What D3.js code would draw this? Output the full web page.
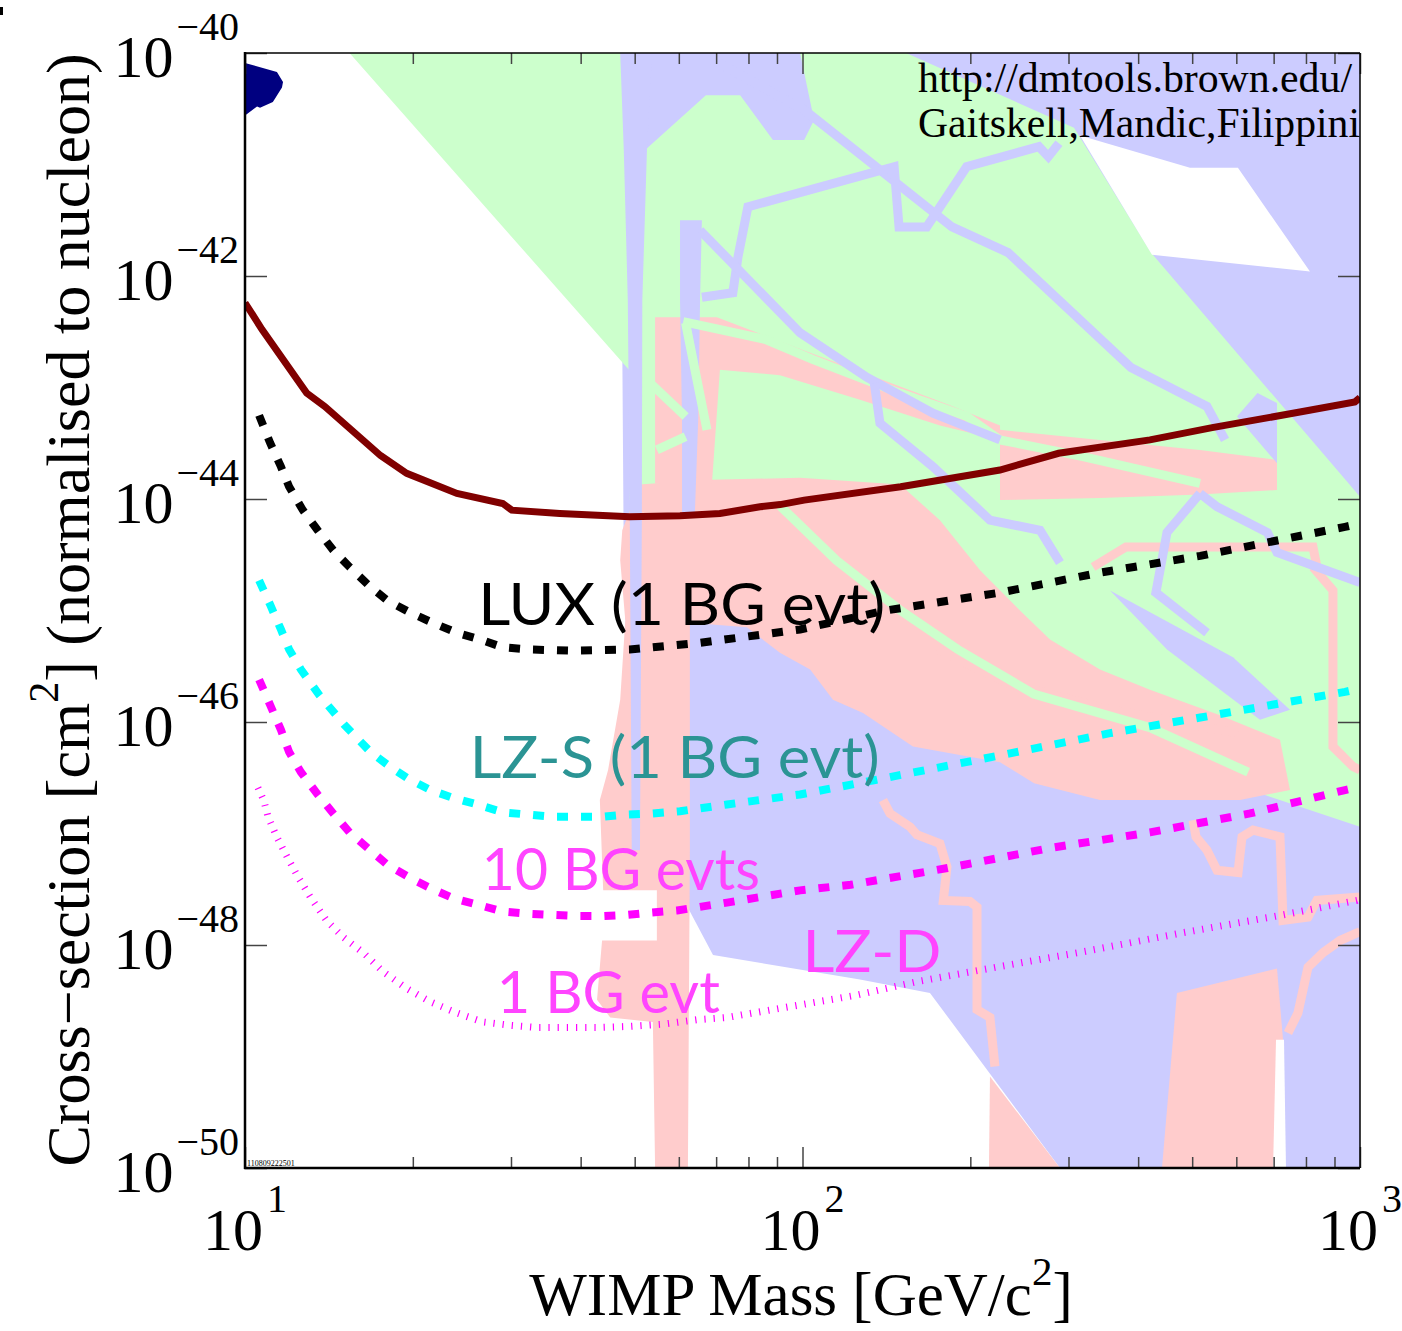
<!DOCTYPE html>
<html>
<head>
<meta charset="utf-8">
<script src="https://cdn.jsdelivr.net/npm/d3@7"></script>
<style>
  body { margin: 0; background: #fff; }
  svg { display: block; }
</style>
</head>
<body>
<div id="chart"></div>
<script>
/* CONSTANTS AND GLOBALS */
const width = 1402;
const height = 1331;
const margin = { top: 53, right: 42, bottom: 163, left: 245 };

// all points are [WIMP mass in GeV, log10 of cross-section in cm^2]
const currentLimit = [[10, -42.24], [10.73, -42.48], [12.9, -43.05], [13.9, -43.17], [17.5, -43.61], [19.5, -43.77],
  [24.0, -43.95], [29.0, -44.04], [30.1, -44.10], [36.7, -44.13], [49.0, -44.16], [60.3, -44.15], [71.1, -44.13],
  [83.9, -44.07], [91.2, -44.05], [100.7, -44.01], [150, -43.89], [226, -43.74], [288, -43.59], [420, -43.47],
  [543, -43.36], [780, -43.22], [979, -43.13], [1000, -43.09]];

const luxProjection = [[10.6, -43.25], [11.1, -43.50], [11.6, -43.71], [12.0, -43.89], [12.7, -44.10], [13.5, -44.28],
  [14.4, -44.46], [15.4, -44.61], [16.8, -44.79], [18.0, -44.91], [19.8, -45.02], [21.7, -45.11], [24.0, -45.20],
  [26.4, -45.26], [29.0, -45.33], [32.4, -45.35], [38.7, -45.36], [49, -45.35], [65.5, -45.29], [99, -45.17],
  [141, -45.00], [226, -44.84], [342, -44.66], [517, -44.51], [940, -44.25], [1000, -44.22]];

const lzsProjection = [[10.6, -44.73], [11.1, -44.95], [11.6, -45.17], [12.0, -45.35], [12.6, -45.53], [13.6, -45.76],
  [15.1, -46.03], [16.8, -46.27], [18.2, -46.40], [19.5, -46.50], [21.5, -46.61], [23.6, -46.68], [26.1, -46.74],
  [29.0, -46.81], [32.1, -46.83], [35.7, -46.85], [39.4, -46.85], [43.9, -46.85], [48.4, -46.83], [53.9, -46.82],
  [60.3, -46.80], [73.2, -46.74], [99, -46.65], [135, -46.52], [226, -46.30], [356, -46.10], [517, -45.96],
  [940, -45.73], [1000, -45.70]];

const lzd10Projection = [[10.6, -45.62], [11.1, -45.85], [11.6, -46.07], [12.0, -46.27], [12.6, -46.45], [13.5, -46.65],
  [14.4, -46.82], [15.4, -46.99], [16.6, -47.13], [18.0, -47.28], [19.8, -47.40], [21.5, -47.49], [23.6, -47.58],
  [26.2, -47.64], [29.0, -47.70], [32.4, -47.72], [35.7, -47.73], [39.6, -47.74], [43.9, -47.74], [48.4, -47.73],
  [53.2, -47.71], [59.6, -47.69], [73.2, -47.62], [99, -47.51], [122, -47.46], [182, -47.31], [278, -47.13],
  [420, -46.99], [635, -46.82], [940, -46.61], [1000, -46.58]];

const lzd1Projection = [[10.55, -46.59], [10.8, -46.70], [11.0, -46.85], [11.4, -47.03], [11.9, -47.21], [12.45, -47.39],
  [13.1, -47.57], [14.0, -47.78], [15.0, -47.93], [16.3, -48.07], [17.7, -48.24], [19.5, -48.39], [21.5, -48.51],
  [24.0, -48.61], [26.7, -48.69], [29.9, -48.72], [33.4, -48.74], [37.2, -48.74], [42.8, -48.74], [49, -48.73],
  [56.2, -48.71], [64.7, -48.67], [73.2, -48.65], [125, -48.45], [160, -48.33], [211, -48.22], [319, -48.06],
  [481, -47.89], [728, -47.73], [988, -47.60], [1000, -47.59]];

// theory / excluded regions
const blueMain = [[47.1, -40], [1000, -40], [1000, -50], [289.6, -50], [169.3, -48.43], [126.8, -48.31], [69.1, -48.09],
  [49.2, -46.70], [47.8, -44.55]];
const greenMain = [[15.4, -40], [153.4, -40], [306.9, -40.67], [421.8, -41.79], [1000, -43.98], [1000, -46.94],
  [661.6, -46.64], [341.6, -46.07], [226.1, -45.71], [149.6, -45.26], [99.0, -44.73], [65.5, -44.28], [49.0, -44.01],
  [49.4, -42.87]];
const whitePatch = [[314.6, -40.74], [495.5, -41.03], [604, -41.03], [813.3, -41.96], [423.5, -41.81]];
const blueTop = [[52.2, -40], [99.0, -40], [104.9, -40.60], [100.7, -40.78], [88.5, -40.78], [77.3, -40.38],
  [67.1, -40.38], [52.2, -40.87]];
const blueStripA = [[47.1, -40], [53.7, -40], [52.6, -40.87], [51.6, -42.22], [51.5, -44.19], [51.1, -47.15],
  [49.4, -47.15], [49.0, -44.19], [48.6, -42.22], [47.8, -40.87]];
const blueStripB = [[60.3, -41.50], [66.0, -41.50], [65.5, -42.22], [65.0, -43.29], [64.1, -44.14], [60.8, -44.14],
  [60.8, -43.29], [60.3, -42.22]];
const blueWedge = [[356.1, -44.82], [591.8, -45.42], [748.8, -45.89], [661.6, -45.98], [450.6, -45.35]];
const blueNotch = [[601.7, -43.26], [654.8, -43.05], [709.8, -43.14], [709.8, -43.68]];
const pinkBig = [[47.5, -44.28], [51.1, -43.87], [65.5, -43.83], [99.0, -43.81], [149.6, -43.87], [176.4, -44.19],
  [208.2, -44.64], [245.5, -45.00], [277.9, -45.26], [341.6, -45.53], [420.0, -45.71], [560.9, -45.94], [718.6, -46.16],
  [748.8, -46.61], [609.2, -46.70], [420.0, -46.70], [341.6, -46.70], [260.2, -46.55], [226.1, -46.36], [157.8, -46.22],
  [128.4, -45.92], [113.4, -45.80], [103.2, -45.53], [91.1, -45.38], [79.5, -45.15], [62.8, -45.11], [62.8, -47.15],
  [62.3, -50], [54.4, -50], [53.9, -48.69], [45.2, -48.65], [42.8, -48.49], [43.7, -47.96], [54.8, -47.96],
  [54.8, -47.51], [43.9, -47.51], [43.3, -46.70], [44.8, -46.43], [47.1, -45.80], [48.1, -45.09], [47.1, -44.55]];
const pinkUpper = [[54.4, -42.37], [70.2, -42.37], [95.0, -42.62], [132.2, -42.89], [183.9, -43.16], [226.1, -43.34],
  [226.1, -43.47], [176.4, -43.34], [126.8, -43.11], [91.1, -42.89], [71.1, -42.84], [68.8, -43.86], [54.4, -43.86]];
const pinkBand = [[226.1, -43.38], [341.6, -43.47], [516.4, -43.56], [709.8, -43.65], [709.8, -43.92], [516.4, -43.96],
  [341.6, -43.99], [226.1, -44.01]];
const pinkWedge = [[216.9, -49.18], [289.6, -50], [216.0, -50]];
const pinkLowRight = [[469.5, -48.43], [709.8, -48.21], [727.6, -48.85], [698.3, -50], [441.4, -50]];
const whiteSliver = [[706.9, -48.85], [730.6, -48.85], [736.6, -50], [698.3, -50]];
const navyBlob = [[10, -40.09], [11.41, -40.17], [11.70, -40.26], [11.65, -40.31], [11.22, -40.44], [10.64, -40.49],
  [10.51, -40.48], [10, -40.56]];

// region outlines
const pinkOutlines = [
  [[501.7, -46.88], [507.9, -47.03], [531.5, -47.15], [554, -47.33], [604.2, -47.35], [614.3, -47.03], [642.8, -46.97],
   [718.6, -47.03], [727.6, -47.78], [806.7, -47.75], [837, -47.60], [1000, -47.57]],
  [[742.7, -48.79], [773.9, -48.61], [806.7, -48.20], [858, -48.07], [920.6, -47.96], [1000, -47.88]],
  [[139.4, -46.70], [143.5, -46.82], [155.9, -46.94], [160.4, -47.01], [176.4, -47.09], [181.6, -47.30], [178.9, -47.60],
   [199.7, -47.61], [205.6, -47.66], [205.6, -48.58], [216.9, -48.65], [221.4, -49.09]],
  [[823.5, -44.61], [894.3, -44.82], [894.3, -46.22], [971.5, -46.40], [1000, -46.43]],
  [[332, -44.61], [380.4, -44.43], [823.5, -44.43], [837.3, -44.61]],
  [[174.2, -45.35], [233.7, -45.65], [356.1, -45.89], [604.2, -46.10]]
];
const greenOutlines = [
  [[91.1, -44.06], [115, -44.55], [150, -45.00], [190, -45.35], [260, -45.75], [420, -46.05], [630, -46.45]],
  [[61.1, -42.41], [85.9, -42.57], [104.5, -42.75], [149.6, -43.05], [197.2, -43.26], [226.1, -43.47], [318.5, -43.62],
   [516.4, -43.86]],
  [[61.7, -42.42], [67.4, -43.38]],
  [[53.3, -42.96], [61.7, -43.26]],
  [[54.8, -43.56], [61.7, -43.44]]
];
const blueOutlines = [
  [[65.5, -40], [100.7, -40.51], [185.4, -41.56], [233.7, -41.79], [388.3, -42.82], [531.5, -43.17], [572.7, -43.47]],
  [[66.0, -42.19], [75.0, -42.15], [76.6, -41.83], [79.8, -41.38], [146, -41.02], [149, -41.56], [167, -41.56],
   [197, -41.02], [265.6, -40.84], [276, -40.93], [288.4, -40.81]],
  [[65.5, -41.59], [99, -42.51], [130.6, -42.91], [171.4, -43.23], [226.1, -43.47]],
  [[134.5, -42.96], [137.7, -43.32], [171.4, -43.71], [216.9, -44.19], [266.7, -44.28], [289.6, -44.57]],
  [[516.4, -43.95], [450.6, -44.30], [430.4, -44.84], [531.5, -45.20]],
  [[516.4, -43.95], [554.1, -44.07], [682.2, -44.30], [709.8, -44.48], [1000, -44.75]]
];

// annotation text anchored in data coordinates
const curveLabels = [
  { text: "LUX (1 BG evt)", at: [26.2, -45.13], len: 407, color: "#000000" },
  { text: "LZ-S (1 BG evt)", at: [25.3, -46.50], len: 410, color: "#2b9494" },
  { text: "10 BG evts", at: [26.6, -47.51], len: 278, color: "#ff44ff" },
  { text: "1 BG evt", at: [28.3, -48.61], len: 223, color: "#ff44ff" },
  { text: "LZ-D", at: [100, -48.24], len: 139, color: "#ff44ff" }
];

const xMajor = [10, 100, 1000];
const xMinor = [20, 30, 40, 50, 60, 70, 80, 90, 200, 300, 400, 500, 600, 700, 800, 900];
const xExponents = [1, 2, 3];
const yExponents = [-40, -42, -44, -46, -48, -50];

/* SVG */
const svg = d3.select("#chart")
  .append("svg")
  .attr("width", width)
  .attr("height", height);

/* SCALES */
const xScale = d3.scaleLog()
  .domain([10, 1000])
  .range([margin.left, width - margin.right]);

const yScale = d3.scaleLog()
  .domain([1e-50, 1e-40])
  .range([height - margin.bottom, margin.top]);

const line = d3.line()
  .x(d => xScale(d[0]))
  .y(d => yScale(Math.pow(10, d[1])));

const polygon = pts => line(pts) + "Z";

svg.append("clipPath")
  .attr("id", "plot-clip")
  .append("rect")
  .attr("x", margin.left)
  .attr("y", margin.top)
  .attr("width", width - margin.left - margin.right)
  .attr("height", height - margin.top - margin.bottom);

const plot = svg.append("g").attr("clip-path", "url(#plot-clip)");

/* REGIONS */
const blue = "#ccccff", green = "#ccffcc", pink = "#ffcccc";

const fills = [
  [blueMain, blue],
  [greenMain, green],
  [whitePatch, "#ffffff"],
  [blueTop, blue],
  [pinkBig, pink],
  [pinkUpper, pink],
  [pinkBand, pink],
  [pinkWedge, pink],
  [pinkLowRight, pink],
  [whiteSliver, "#ffffff"],
  [blueStripA, blue],
  [blueStripB, blue],
  [blueWedge, blue],
  [blueNotch, blue]
];

plot.selectAll("path.region")
  .data(fills)
  .join("path")
  .attr("class", "region")
  .attr("d", d => polygon(d[0]))
  .attr("fill", d => d[1]);

const outlineSets = [
  [pinkOutlines, pink],
  [greenOutlines, green],
  [blueOutlines, blue]
];
outlineSets.forEach(([set, color]) => {
  plot.append("g")
    .selectAll("path")
    .data(set)
    .join("path")
    .attr("d", line)
    .attr("fill", "none")
    .attr("stroke", color)
    .attr("stroke-width", 9)
    .attr("stroke-linejoin", "miter");
});

plot.append("path")
  .attr("d", polygon(navyBlob))
  .attr("fill", "#000080");

/* CURVES */
const curves = [
  { data: currentLimit, color: "#800000", w: 7, dash: null },
  { data: luxProjection, color: "#000000", w: 8, dash: "11,13" },
  { data: lzsProjection, color: "#00ffff", w: 8, dash: "11,13" },
  { data: lzd10Projection, color: "#ff00ff", w: 8, dash: "11,13" },
  { data: lzd1Projection, color: "#ff00ff", w: 7, dash: "1.2,8" }
];

plot.selectAll("path.curve")
  .data(curves)
  .join("path")
  .attr("class", "curve")
  .attr("d", d => line(d.data))
  .attr("fill", "none")
  .attr("stroke", d => d.color)
  .attr("stroke-width", d => d.w)
  .attr("stroke-dasharray", d => d.dash);

/* LABELS ON CURVES */
svg.selectAll("text.curve-label")
  .data(curveLabels)
  .join("text")
  .attr("class", "curve-label")
  .attr("x", d => xScale(d.at[0]))
  .attr("y", d => yScale(Math.pow(10, d.at[1])))
  .attr("textLength", d => d.len)
  .attr("lengthAdjust", "spacingAndGlyphs")
  .style("font-family", "Lato, 'Open Sans', sans-serif")
  .style("font-size", "58px")
  .attr("fill", d => d.color)
  .text(d => d.text);

/* AXES */
const tickColor = "#444";

function styleAxis(g) {
  g.select(".domain").remove();
  g.selectAll(".tick line").attr("stroke", tickColor).attr("stroke-width", 1.5);
  g.selectAll(".tick text").remove();
}

svg.append("g")
  .attr("transform", `translate(0,${height - margin.bottom})`)
  .call(d3.axisBottom(xScale).tickValues(xMajor).tickSizeInner(-21).tickSizeOuter(0))
  .call(styleAxis);
svg.append("g")
  .attr("transform", `translate(0,${height - margin.bottom})`)
  .call(d3.axisBottom(xScale).tickValues(xMinor).tickSizeInner(-11).tickSizeOuter(0))
  .call(styleAxis);
svg.append("g")
  .attr("transform", `translate(0,${margin.top})`)
  .call(d3.axisTop(xScale).tickValues(xMajor).tickSizeInner(-21).tickSizeOuter(0))
  .call(styleAxis);
svg.append("g")
  .attr("transform", `translate(0,${margin.top})`)
  .call(d3.axisTop(xScale).tickValues(xMinor).tickSizeInner(-11).tickSizeOuter(0))
  .call(styleAxis);

const yTicks = yExponents.map(e => Math.pow(10, e));
svg.append("g")
  .attr("transform", `translate(${margin.left},0)`)
  .call(d3.axisLeft(yScale).tickValues(yTicks).tickSizeInner(-22).tickSizeOuter(0))
  .call(styleAxis);
svg.append("g")
  .attr("transform", `translate(${width - margin.right},0)`)
  .call(d3.axisRight(yScale).tickValues(yTicks).tickSizeInner(-22).tickSizeOuter(0))
  .call(styleAxis);

// frame
const x0 = margin.left, x1 = width - margin.right;
const y0 = margin.top, y1 = height - margin.bottom;
svg.append("line").attr("x1", x0).attr("x2", x1).attr("y1", y0).attr("y2", y0)
  .attr("stroke", "#000").attr("stroke-width", 1.5);
svg.append("line").attr("x1", x1).attr("x2", x1).attr("y1", y0).attr("y2", y1)
  .attr("stroke", "#000").attr("stroke-width", 1.5);
svg.append("line").attr("x1", x0).attr("x2", x0).attr("y1", y0 - 1).attr("y2", y1 + 1)
  .attr("stroke", "#000").attr("stroke-width", 2.5);
svg.append("line").attr("x1", x0 - 1).attr("x2", x1).attr("y1", y1).attr("y2", y1)
  .attr("stroke", "#000").attr("stroke-width", 2.5);

/* TICK LABELS */
const serif = "'Liberation Serif', 'Times New Roman', serif";

const xLab = svg.selectAll("text.xlab")
  .data(xExponents)
  .join("text")
  .attr("class", "xlab")
  .attr("x", d => xScale(Math.pow(10, d)))
  .attr("y", 1250)
  .attr("text-anchor", "middle")
  .style("font-family", serif)
  .style("font-size", "60px");
xLab.append("tspan").text("10");
xLab.append("tspan").attr("dx", 4).attr("dy", -38).style("font-size", "40px").text(d => d);

const yLab = svg.selectAll("text.ylab")
  .data(yExponents)
  .join("text")
  .attr("class", "ylab")
  .attr("x", 239)
  .attr("y", d => yScale(Math.pow(10, d)) + 24)
  .attr("text-anchor", "end")
  .style("font-family", serif)
  .style("font-size", "60px");
yLab.append("tspan").text("10");
yLab.append("tspan").attr("dx", 3).attr("dy", -37).style("font-size", "40px").text(d => "\u2212" + Math.abs(d));

/* AXIS TITLES */
const xTitle = svg.append("text")
  .attr("x", 801)
  .attr("y", 1315)
  .attr("text-anchor", "middle")
  .style("font-family", serif)
  .style("font-size", "61px");
xTitle.append("tspan").text("WIMP Mass [GeV/c");
xTitle.append("tspan").attr("dy", -30).style("font-size", "41px").text("2");
xTitle.append("tspan").attr("dy", 30).text("]");

const yTitle = svg.append("text")
  .attr("transform", "translate(89,610) rotate(-90)")
  .attr("text-anchor", "middle")
  .style("font-family", serif)
  .style("font-size", "62px");
yTitle.append("tspan").text("Cross\u2212section [cm");
yTitle.append("tspan").attr("dy", -31).style("font-size", "42px").text("2");
yTitle.append("tspan").attr("dy", 31).text("] (normalised to nucleon)");

/* CREDIT TEXT */
svg.append("text")
  .attr("x", 918).attr("y", 92)
  .attr("textLength", 434).attr("lengthAdjust", "spacingAndGlyphs")
  .style("font-family", serif).style("font-size", "42px")
  .text("http://dmtools.brown.edu/");
svg.append("text")
  .attr("x", 918).attr("y", 137)
  .attr("textLength", 442).attr("lengthAdjust", "spacingAndGlyphs")
  .style("font-family", serif).style("font-size", "42px")
  .text("Gaitskell,Mandic,Filippini");

svg.append("text")
  .attr("x", 247).attr("y", 1166)
  .style("font-family", serif).style("font-size", "8px")
  .text("110809222501");

svg.append("rect")
  .attr("x", 0).attr("y", 7).attr("width", 3).attr("height", 8)
  .attr("fill", "#000");
</script>
</body>
</html>
